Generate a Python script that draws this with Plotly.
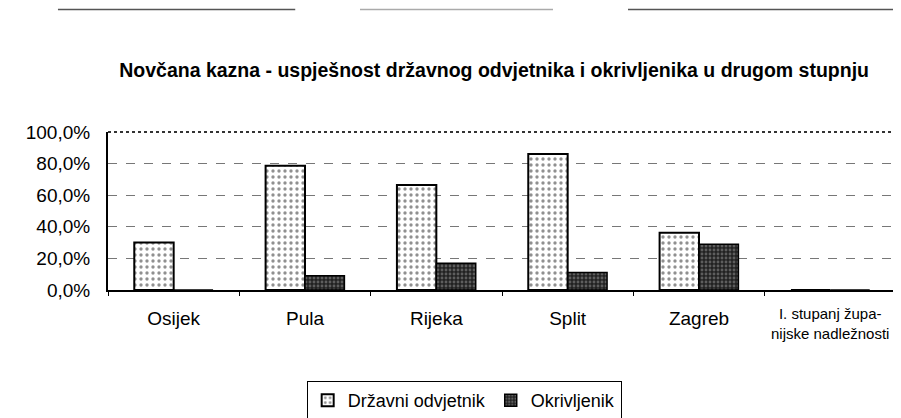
import plotly.graph_objects as go

# Data
categories = ["Osijek", "Pula", "Rijeka", "Split", "Zagreb", "I. stupanj županijske nadležnosti"]
last_label = "I. stupanj župa-<br>nijske nadležnosti"
drzavni_odvjetnik = [30.0, 78.6, 66.5, 86.0, 36.3, 0.0]
okrivljenik = [0.0, 9.0, 17.0, 11.1, 28.9, 0.0]
y_ticks = [0, 20, 40, 60, 80, 100]
y_tick_labels = ["0,0%", "20,0%", "40,0%", "60,0%", "80,0%", "100,0%"]

tick_text = categories[:-1] + [""]

fig = go.Figure()
fig.add_trace(go.Bar(
    x=categories, y=drzavni_odvjetnik, name="Državni odvjetnik",
    marker=dict(color="white", line=dict(color="black", width=2),
                pattern=dict(shape=".", fgcolor="#222", bgcolor="white", size=6, solidity=0.25)),
))
fig.add_trace(go.Bar(
    x=categories, y=okrivljenik, name="Okrivljenik",
    marker=dict(color="#333", line=dict(color="black", width=1.5),
                pattern=dict(shape=".", fgcolor="#999", bgcolor="#222", size=4, solidity=0.4)),
))

# page body has an 8px margin, so the figure is 8px smaller than the window
fig.update_layout(
    width=893, height=410,
    margin=dict(l=100, r=5, t=124, b=128, autoexpand=False),
    paper_bgcolor="white", plot_bgcolor="white",
    font=dict(family="Liberation Sans, Arial, sans-serif", color="black"),
    barmode="group", bargap=0.4, bargroupgap=0,
    title=dict(text="<b>Novčana kazna - uspješnost državnog odvjetnika i okrivljenika u drugom stupnju</b>",
               x=0.49, xref="paper", xanchor="center", y=0.849, yanchor="middle", font=dict(size=19.5)),
    legend=dict(orientation="h", x=0.452, xanchor="center", yref="container", y=0.09, yanchor="top",
                bordercolor="black", borderwidth=1, font=dict(size=18),
                itemwidth=30, traceorder="normal", entrywidth=0, tracegroupgap=0),
    showlegend=True,
)
fig.update_xaxes(
    tickmode="array", tickvals=categories, ticktext=tick_text,
    tickfont=dict(size=19), showline=True, linecolor="black", linewidth=2,
    ticks="outside", ticklen=4, tickson="boundaries", tickcolor="black",
    ticklabelstandoff=10, showgrid=False,
)
fig.update_yaxes(
    range=[0, 100], tickmode="array", tickvals=y_ticks, ticktext=y_tick_labels,
    tickfont=dict(size=19), showline=True, linecolor="black", linewidth=2,
    ticks="outside", ticklen=4, tickcolor="white", ticklabelstandoff=8,
    showgrid=True, gridcolor="#777", griddash="dash", gridwidth=1,
    zeroline=False,
)
# two-line label of the last category, a bit smaller
fig.add_annotation(x=categories[-1], xref="x", y=-0.209, yref="paper", text=last_label,
                   showarrow=False, yanchor="middle", font=dict(size=15))
# dotted frame at top and right of plot area
fig.add_shape(type="line", xref="paper", yref="paper", x0=0, x1=1, y0=1, y1=1,
              line=dict(color="#333", width=2, dash="dot"))
fig.add_shape(type="line", xref="paper", yref="paper", x0=1, x1=1, y0=0, y1=1,
              line=dict(color="#333", width=1.5, dash="dot"))
# broken scan line at the very top of the page
for x0, x1, col in [(-0.0635, 0.2376, "#555"), (0.3198, 0.5647, "#aaa"), (0.6599, 1.0, "#555")]:
    fig.add_shape(type="line", xref="paper", yref="paper", x0=x0, x1=x1, y0=1.775, y1=1.775,
                  line=dict(color=col, width=1.5))

fig.write_html("out.html")
